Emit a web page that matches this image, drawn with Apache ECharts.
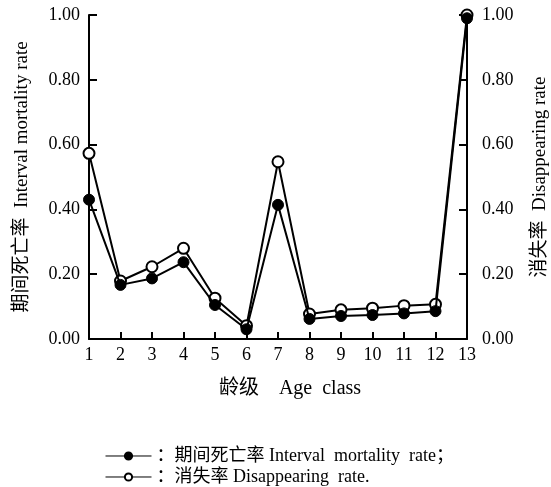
<!DOCTYPE html>
<html><head><meta charset="utf-8">
<script src="https://cdn.jsdelivr.net/npm/echarts@6/dist/echarts.min.js"></script>
<style>html,body{margin:0;padding:0;background:#fff}#c{width:551px;height:487px}</style>
</head><body><div id="c"></div>
<script>
const categories = ['1','2','3','4','5','6','7','8','9','10','11','12','13'];
const intervalMortality = [0.43,0.167,0.187,0.237,0.105,0.030,0.414,0.062,0.071,0.074,0.079,0.086,0.99];
const disappearingRate = [0.573,0.179,0.223,0.280,0.126,0.041,0.547,0.077,0.090,0.095,0.103,0.107,1.00];
const yTicks = {min:0, max:1, interval:0.2};
const nameMortality = '期间死亡率 Interval  mortality  rate';
const nameDisappear = '消失率 Disappearing  rate';

const serif = "'Liberation Serif','Noto Sans CJK SC',serif";
const chart = echarts.init(document.getElementById('c'), null, {renderer:'canvas'});
const axisLine = {show:true, lineStyle:{color:'#000', width:2}};
const tick = {show:true, inside:true, length:8, lineStyle:{color:'#000', width:2}};
const lbl = {fontFamily:serif, fontSize:18, color:'#000'};
chart.setOption({
  animation:false,
  backgroundColor:'#fff',
  grid:{left:89, right:84, top:15, bottom:148, containLabel:false, outerBoundsMode:'none'},
  legend:{
    orient:'vertical', left:100, top:442, height:48, itemWidth:46, itemHeight:9, itemGap:3,
    textStyle:{fontFamily:serif, fontSize:18, color:'#000'},
    lineStyle:{width:1},
    formatter: n => '：' + n + (n === nameMortality ? '；' : '.'),
    data:[nameMortality, nameDisappear]
  },
  xAxis:{
    type:'category', data:categories, boundaryGap:false,
    name:'龄级    Age  class', nameLocation:'middle', nameGap:40,
    nameTextStyle:{fontFamily:serif, fontSize:20, color:'#000', padding:[0,0,0,24]},
    axisLine:axisLine,
    axisTick:{show:true, inside:true, length:7, lineStyle:{color:'#000', width:2}},
    axisLabel:Object.assign({margin:7}, lbl),
    splitLine:{show:false}
  },
  yAxis:[
    {type:'value', position:'left', min:yTicks.min, max:yTicks.max, interval:yTicks.interval,
     name:'期间死亡率  Interval mortality rate', nameLocation:'middle', nameRotate:90, nameGap:57,
     nameTextStyle:{fontFamily:serif, fontSize:19, color:'#000'},
     axisLine:axisLine, axisTick:tick,
     axisLabel:Object.assign({margin:9, formatter:v=>v.toFixed(2)}, lbl),
     splitLine:{show:false}},
    {type:'value', position:'right', min:yTicks.min, max:yTicks.max, interval:yTicks.interval,
     name:'消失率  Disappearing rate', nameLocation:'middle', nameRotate:90, nameGap:64,
     nameTextStyle:{fontFamily:serif, fontSize:19, color:'#000'},
     axisLine:axisLine, axisTick:tick,
     axisLabel:Object.assign({margin:15, formatter:v=>v.toFixed(2)}, lbl),
     splitLine:{show:false}}
  ],
  series:[
    {name:nameDisappear, type:'line', yAxisIndex:1, data:disappearingRate,
     symbol:'circle', symbolSize:11,
     lineStyle:{color:'#000', width:2},
     itemStyle:{color:'#fff', borderColor:'#000', borderWidth:2}, z:2},
    {name:nameMortality, type:'line', yAxisIndex:0, data:intervalMortality,
     symbol:'circle', symbolSize:11,
     lineStyle:{color:'#000', width:2},
     itemStyle:{color:'#000', borderColor:'#000', borderWidth:1}, z:3}
  ]
});
</script></body></html>
